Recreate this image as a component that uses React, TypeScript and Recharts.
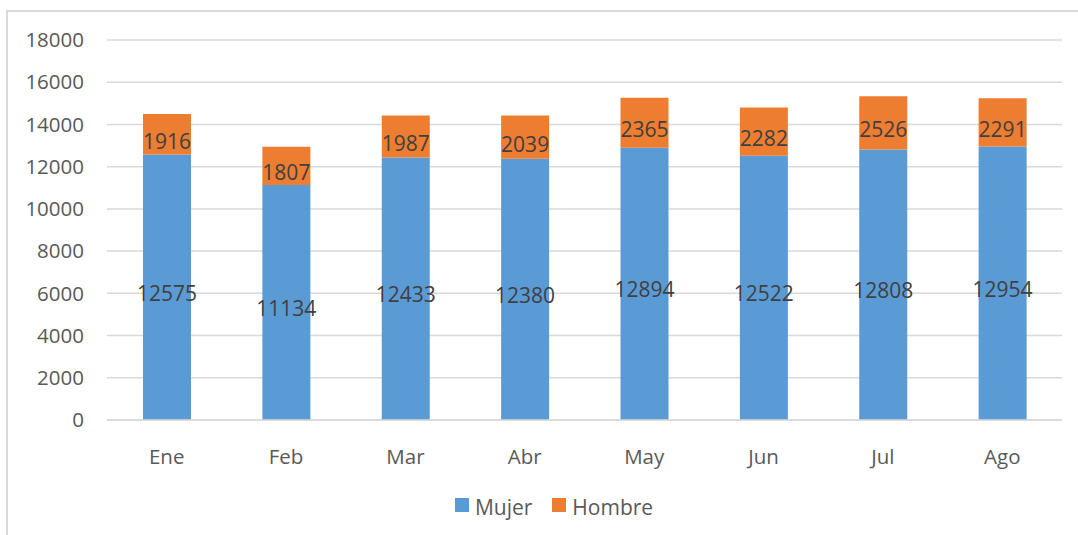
import { BarChart, Bar, XAxis, YAxis, CartesianGrid, Legend, LabelList } from "recharts"

const months = ["Ene", "Feb", "Mar", "Abr", "May", "Jun", "Jul", "Ago"]
const mujer = [12575, 11134, 12433, 12380, 12894, 12522, 12808, 12954]
const hombre = [1916, 1807, 1987, 2039, 2365, 2282, 2526, 2291]
const yTicks = [0, 2000, 4000, 6000, 8000, 10000, 12000, 14000, 16000, 18000]
const series = [
  { name: "Mujer", color: "#5b9bd5" },
  { name: "Hombre", color: "#ed7d31" },
]

const data = months.map((m, i) => ({ mes: m, Mujer: mujer[i], Hombre: hombre[i] }))

const font = "'Open Sans', 'Noto Sans', sans-serif"

function LegendBox() {
  return (
    <div style={{ display: "flex", justifyContent: "center", alignItems: "center", gap: 20, fontSize: 21, color: "#595959", fontFamily: font }}>
      {series.map((s) => (
        <div key={s.name} style={{ display: "flex", alignItems: "center" }}>
          <span style={{ display: "inline-block", width: 14, height: 14, background: s.color, marginRight: 6, marginTop: -4 }} />
          <span>{s.name}</span>
        </div>
      ))}
    </div>
  )
}

export default function App() {
  return (
    <div style={{ position: "absolute", left: 0, top: 0, width: 1078, height: 535, overflow: "hidden", background: "#fff", fontFamily: font }}>
      <div style={{ position: "absolute", left: 6, top: 10, width: 1200, height: 700, border: "2px solid #d9d9d9" }} />
      <BarChart
        width={1078}
        height={535}
        data={data}
        margin={{ top: 40, right: 16, bottom: 0, left: 0 }}
      >
        <CartesianGrid vertical={false} stroke="#d9d9d9" strokeWidth={1.5} />
        <XAxis
          dataKey="mes"
          height={65}
          tickLine={false}
          axisLine={{ stroke: "#d9d9d9", strokeWidth: 1.5 }}
          tickMargin={23}
          tick={{ fontSize: 20.5, fill: "#595959", fontFamily: font }}
        />
        <YAxis
          width={107}
          domain={[0, 18000]}
          ticks={yTicks}
          tickLine={false}
          tickSize={0}
          axisLine={false}
          tickMargin={23}
          tick={{ fontSize: 20.5, fill: "#595959", fontFamily: font }}
        />
        <Legend
          verticalAlign="bottom"
          height={50}
          content={() => <LegendBox />}
          wrapperStyle={{ top: 493, left: 15, width: 1078 }}
        />
        <Bar dataKey="Mujer" stackId="a" fill="#5b9bd5" barSize={48} isAnimationActive={false}>
          <LabelList dataKey="Mujer" position="center" fill="#404040" fontSize={21} fontFamily={font} dy={6} />
        </Bar>
        <Bar dataKey="Hombre" stackId="a" fill="#ed7d31" barSize={48} isAnimationActive={false}>
          <LabelList dataKey="Hombre" position="center" fill="#404040" fontSize={21} fontFamily={font} dy={7} />
        </Bar>
      </BarChart>
    </div>
  )
}
